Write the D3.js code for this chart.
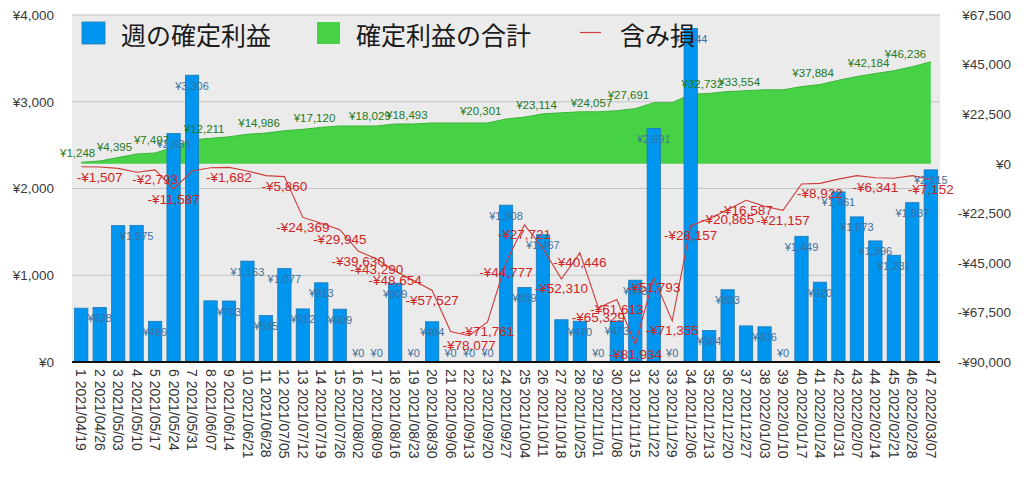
<!DOCTYPE html>
<html><head><meta charset="utf-8">
<script src="https://cdn.jsdelivr.net/npm/d3@7"></script>
<style>
html,body{margin:0;padding:0;background:#fff;}
svg{display:block;font-family:"Liberation Sans",Arial,Helvetica,sans-serif;}
</style></head>
<body>
<svg id="chart" width="1024" height="477"></svg>
<script>
const categories = [
"1 2021/04/19","2 2021/04/26","3 2021/05/03","4 2021/05/10","5 2021/05/17","6 2021/05/24","7 2021/05/31",
"8 2021/06/07","9 2021/06/14","10 2021/06/21","11 2021/06/28","12 2021/07/05","13 2021/07/12","14 2021/07/19",
"15 2021/07/26","16 2021/08/02","17 2021/08/09","18 2021/08/16","19 2021/08/23","20 2021/08/30","21 2021/09/06",
"22 2021/09/13","23 2021/09/20","24 2021/09/27","25 2021/10/04","26 2021/10/11","27 2021/10/18","28 2021/10/25",
"29 2021/11/01","30 2021/11/08","31 2021/11/15","32 2021/11/22","33 2021/11/29","34 2021/12/06","35 2021/12/13",
"36 2021/12/20","37 2021/12/27","38 2022/01/03","39 2022/01/10","40 2022/01/17","41 2022/01/24","42 2022/01/31",
"43 2022/02/07","44 2022/02/14","45 2022/02/21","46 2022/02/28","47 2022/03/07"];

const weeklyProfit = [620,628,1572,1575,469,2633,3306,705,703,1163,535,1077,612,913,609,0,0,909,0,464,0,0,0,
1808,859,1467,487,470,0,473,943,2691,0,3844,364,833,416,406,0,1449,920,1961,1673,1396,1231,1837,2215];

const cumulativeProfit = [620,1248,2820,4395,4864,7497,10803,11508,12211,13374,13909,14986,15598,16511,17120,
17120,17120,18029,18029,18493,18493,18493,18493,20301,21160,22627,23114,23584,23584,24057,25000,27691,27691,
31535,31899,32732,33148,33554,33554,35003,35923,37884,39557,40953,42184,44021,46236];

const unrealizedLoss = [-1400,-1507,-2100,-3900,-2793,-11587,-3300,-1800,-1682,-3300,-5400,-5860,-24369,-27000,
-29945,-39630,-43290,-48654,-53000,-57527,-76200,-78077,-71761,-44777,-27721,-38500,-52310,-40446,-65329,-61613,
-81934,-51793,-71355,-28157,-25000,-20865,-16587,-19300,-21157,-9200,-8922,-7000,-5400,-6341,-6600,-5400,-7152];

// which points carry a visible value label (1-based week numbers)
const barLabelHidden = [1,3,8,27,37];
const cumLabelShown = [2,4,6,9,12,15,18,20,24,27,30,32,36,38,42,45,47];
const lossLabelShown = [2,5,6,9,12,13,15,16,17,18,20,22,23,24,25,27,28,29,30,31,32,33,34,36,37,39,41,44,47];

const leftTicks = [0,1000,2000,3000,4000];
const rightTicks = [-90000,-67500,-45000,-22500,0,22500,45000,67500];
const legendLabels = ["週の確定利益","確定利益の合計","含み損"];

const svg = d3.select("#chart");
const L = 72, R = 940, T = 15, B = 362;

const x = d3.scaleBand().domain(d3.range(categories.length)).range([L, R]).paddingInner(0.28).paddingOuter(0.14);
const yL = d3.scaleLinear().domain([0, 4000]).range([B, T]);
const yR = d3.scaleLinear().domain([-90000, 67500]).range([B, T]);
const cx = i => x(i) + x.bandwidth() / 2;

const yen = v => (v < 0 ? "-" : "") + "¥" + d3.format(",")(Math.abs(v));

// plot background
svg.append("rect").attr("x", L).attr("y", T).attr("width", R - L).attr("height", B - T).attr("fill", "#ebebeb");

// grid
svg.append("g").selectAll("line").data(leftTicks.filter(d => d > 0)).join("line")
  .attr("x1", L).attr("x2", R).attr("y1", d => yL(d)).attr("y2", d => yL(d))
  .attr("stroke", "#c4c4c4").attr("stroke-width", 1.2);

// cumulative area
const area = d3.area().x((d, i) => cx(i)).y0(yR(0)).y1(d => yR(d));
svg.append("path").datum(cumulativeProfit).attr("d", area).attr("fill", "#47d246");
svg.append("path").datum(cumulativeProfit)
  .attr("d", d3.line().x((d, i) => cx(i)).y(d => yR(d)))
  .attr("fill", "none").attr("stroke", "#3cb43c").attr("stroke-width", 1);

// bars
svg.append("g").selectAll("rect").data(weeklyProfit).join("rect")
  .attr("x", (d, i) => x(i)).attr("width", x.bandwidth())
  .attr("y", d => yL(d)).attr("height", d => B - yL(d))
  .attr("fill", "#0096ef").attr("stroke", "#1c78b6").attr("stroke-width", 0.8);

// loss line
svg.append("path").datum(unrealizedLoss)
  .attr("d", d3.line().x((d, i) => cx(i)).y(d => yR(d)))
  .attr("fill", "none").attr("stroke", "#cf3b3b").attr("stroke-width", 1.1);

// bottom axis line
svg.append("line").attr("x1", L).attr("x2", R).attr("y1", B).attr("y2", B)
  .attr("stroke", "#111").attr("stroke-width", 2);

// axes
const axL = svg.append("g").attr("transform", "translate(54,0)")
  .call(d3.axisLeft(yL).tickValues(leftTicks).tickSize(0).tickPadding(0).tickFormat(yen));
const axR = svg.append("g").attr("transform", "translate(1011,0)")
  .call(d3.axisLeft(yR).tickValues(rightTicks).tickSize(0).tickPadding(0).tickFormat(yen));
[axL, axR].forEach(a => {
  a.select(".domain").remove();
  a.selectAll("text").attr("font-size", 13.5).attr("fill", "#3a3a3a")
    .attr("font-family", "'Liberation Sans',Arial,sans-serif");
});

const axB = svg.append("g").attr("transform", `translate(0,${B})`)
  .call(d3.axisBottom(x).tickSize(0).tickFormat(i => categories[i]));
axB.select(".domain").remove();
axB.selectAll("text").attr("transform", "rotate(90)").attr("x", 7).attr("y", 0).attr("dy", "0.35em")
  .attr("text-anchor", "start").attr("font-size", 14).attr("fill", "#333")
  .attr("font-family", "'Liberation Sans',Arial,sans-serif");

// bar labels
svg.append("g").selectAll("text")
  .data(weeklyProfit.map((v, i) => ({v, i})).filter(d => !barLabelHidden.includes(d.i + 1)))
  .join("text")
  .attr("x", d => cx(d.i)).attr("y", d => Math.min(yL(d.v) + 14.5, B - 5))
  .attr("text-anchor", "middle").attr("font-size", 11).attr("fill", "#3f709c")
  .text(d => yen(d.v));

// cumulative labels
svg.append("g").selectAll("text")
  .data(cumLabelShown.map(n => ({v: cumulativeProfit[n - 1], i: n - 1})))
  .join("text")
  .attr("x", d => cx(d.i) - 4.5).attr("y", d => yR(d.v) - 3.5)
  .attr("text-anchor", "end").attr("font-size", 11.5).attr("fill", "#1f7a22")
  .text(d => yen(d.v));

// loss labels
svg.append("g").selectAll("text")
  .data(lossLabelShown.map(n => ({v: unrealizedLoss[n - 1], i: n - 1})))
  .join("text")
  .attr("x", d => cx(d.i)).attr("y", d => yR(d.v) + 14.5)
  .attr("text-anchor", "middle").attr("font-size", 13.5).attr("fill", "#cf2424")
  .text(d => yen(d.v));

// legend
const lg = svg.append("g").attr("font-family", "'Noto Sans CJK JP',sans-serif").attr("font-size", 25).attr("fill", "#1a1a1a");
lg.append("rect").attr("x", 82).attr("y", 22).attr("width", 23).attr("height", 22).attr("fill", "#0096ef").attr("stroke", "#1c78b6").attr("stroke-width", 0.8);
lg.append("text").attr("x", 121).attr("y", 33.5).attr("dominant-baseline", "central").text(legendLabels[0]);
lg.append("rect").attr("x", 317).attr("y", 22).attr("width", 23).attr("height", 22).attr("fill", "#47d246");
lg.append("text").attr("x", 356).attr("y", 33.5).attr("dominant-baseline", "central").text(legendLabels[1]);
lg.append("line").attr("x1", 580).attr("x2", 601).attr("y1", 32.5).attr("y2", 32.5).attr("stroke", "#cf3b3b").attr("stroke-width", 1.2);
lg.append("text").attr("x", 620).attr("y", 33.5).attr("dominant-baseline", "central").text(legendLabels[2]);
</script>
</body></html>
